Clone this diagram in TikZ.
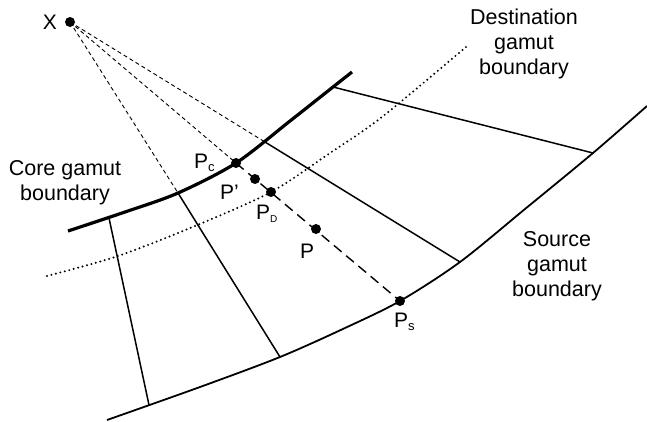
\documentclass[tikz,border=0pt]{standalone}
\usepackage{fontspec}
\setmainfont{Liberation Sans}
\begin{document}
\begin{tikzpicture}[x=1pt,y=-1pt,
  lbl/.style={inner sep=0pt,font=\fontsize{21}{25}\selectfont},
  captext/.style={inner sep=0pt,align=center,font=\fontsize{21.5}{25}\selectfont},
  radial/.style={line width=1.5pt},
  ray/.style={line width=0.9pt,dash pattern=on 4pt off 3pt},
  mapline/.style={line width=1.4pt,dash pattern=on 10pt off 6pt},
  dotpt/.style={circle,fill=black,inner sep=0pt,minimum width=9pt,minimum height=10pt}]
\useasboundingbox (0,0) rectangle (647,421);
% boundaries
\draw[line width=1.8pt] plot[smooth,tension=0.5] coordinates {(107,420) (200,387) (280,357) (345,328) (400,301) (460,262) (525,209) (593,153) (647,106)};
\draw[line width=3.2pt] plot[smooth,tension=0.5] coordinates {(68,231) (125,212) (178,193) (236,163) (290,121) (333,87) (352,72)};
\draw[line width=2.2pt,line cap=round,dash pattern=on 0pt off 4.6pt] plot[smooth,tension=0.5] coordinates {(47,276) (118,256) (195,226) (271,192) (330,153) (382,117) (466,47)};
% coordinates
\coordinate (c1) at (109,218); \coordinate (s1) at (149,405);
\coordinate (c2) at (178,193); \coordinate (s2) at (280,357);
\coordinate (c3) at (265,142); \coordinate (s3) at (460,262);
\coordinate (c4) at (333,87);  \coordinate (s4) at (593,153);
\draw[radial] (c1) -- (s1);
\draw[radial] (c2) -- (s2);
\draw[radial] (c3) -- (s3);
\draw[radial] (c4) -- (s4);
% points
\node[dotpt] (X) at (70,22) {};
\node[dotpt] (Pc) at (236,163) {};
\node[dotpt] (Pp) at (255,179) {};
\node[dotpt] (Pd) at (271,192) {};
\node[dotpt] (P) at (316,229) {};
\node[dotpt] (Ps) at (400,301) {};
\draw[ray] (X.center) -- (c2);
\draw[ray] (X.center) -- (Pc.center);
\draw[ray] (X.center) -- (c3);
\draw[mapline] (Pc.center) -- (Ps.center);
% labels
\node[lbl] (lX) at (50,22) {X};
\node[lbl,anchor=base west] (lPc) at (194,168) {P\raisebox{-3.5pt}{\fontsize{13}{13}\selectfont c}};
\node[lbl,anchor=base west] (lPp) at (220,199) {P’};
\node[lbl,anchor=base west] (lPd) at (256,219) {P\raisebox{-3.5pt}{\fontsize{10}{10}\selectfont D}};
\node[lbl,anchor=base west] (lP) at (300,258) {P};
\node[lbl,anchor=base west] (lPs) at (394,327) {P\raisebox{-3.5pt}{\fontsize{13}{13}\selectfont s}};
\node[captext] (core) at (65,183) {Core gamut\\boundary};
\node[captext] (dest) at (524,44) {Destination\\gamut\\boundary};
\node[captext] (src) at (557,266) {Source\\gamut\\boundary};
\end{tikzpicture}
\end{document}
